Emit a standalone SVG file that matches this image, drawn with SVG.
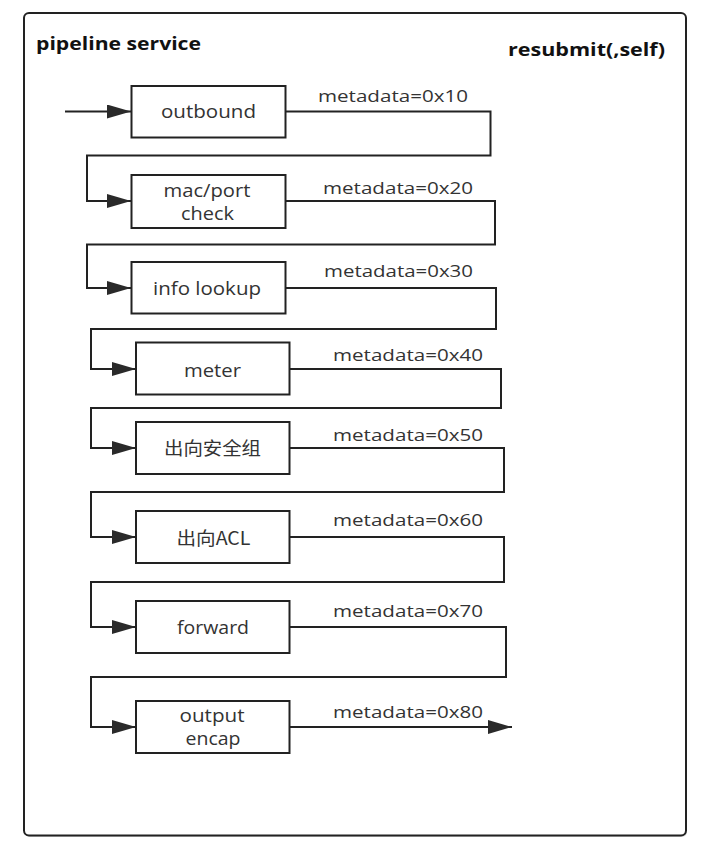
<svg xmlns="http://www.w3.org/2000/svg" width="710" height="858" viewBox="0 0 710 858">
<style>
.frame{fill:#fff;stroke:#222;stroke-width:2}
.node rect{fill:#fff;stroke:#222;stroke-width:2}
.lbl{font-family:"Open Sans","DejaVu Sans","Noto Sans CJK SC",sans-serif;font-size:18px;fill:#333;text-anchor:middle}
.cjk{font-family:"Noto Sans CJK SC","Open Sans",sans-serif;font-size:18px;fill:#333;text-anchor:middle}
.meta{font-family:"Open Sans","DejaVu Sans",sans-serif;font-size:17px;fill:#333}
.title{font-family:"Open Sans","DejaVu Sans",sans-serif;font-size:17px;font-weight:bold;fill:#111}
.conn path{fill:none;stroke:#222;stroke-width:2;marker-end:url(#arr)}
</style>
<defs>
<marker id="arr" viewBox="0 0 24 14" refX="24" refY="7" markerWidth="24" markerHeight="14" markerUnits="userSpaceOnUse" orient="auto">
<path d="M0,0 L24,7 L0,14 z" fill="#2a2a2a"/>
</marker>
</defs>
<rect width="710" height="858" fill="#fff"/>
<rect x="25" y="14" width="662" height="823" rx="5" fill="#bbb" opacity="0.5"/>
<rect class="frame" x="24" y="13" width="662" height="822.5" rx="5"/>
<text class="title" x="36" y="50" textLength="165" lengthAdjust="spacingAndGlyphs">pipeline service</text>
<text class="title" x="508" y="56" textLength="157" lengthAdjust="spacingAndGlyphs">resubmit(,self)</text>

<g id="connectors" class="conn">
<path d="M65,111.5 H131"/>
<path d="M285,111.5 H490.5 V155.5 H87 V201 H131"/>
<path d="M285,201 H495 V244.5 H87 V288 H131"/>
<path d="M285,288 H496 V329 H91 V369 H136"/>
<path d="M289,369 H501 V408 H91 V448 H136"/>
<path d="M289,448 H504 V492 H91 V537 H136"/>
<path d="M289,537 H504 V582 H91 V627 H136"/>
<path d="M289,627 H506 V677 H91 V727 H136"/>
<path d="M289,727 H512"/>
</g>

<g id="labels">
<text class="meta" x="318" y="101.5" textLength="150" lengthAdjust="spacingAndGlyphs">metadata=0x10</text>
<text class="meta" x="323" y="194" textLength="150" lengthAdjust="spacingAndGlyphs">metadata=0x20</text>
<text class="meta" x="324" y="277" textLength="149" lengthAdjust="spacingAndGlyphs">metadata=0x30</text>
<text class="meta" x="333" y="361" textLength="150" lengthAdjust="spacingAndGlyphs">metadata=0x40</text>
<text class="meta" x="333" y="441" textLength="150" lengthAdjust="spacingAndGlyphs">metadata=0x50</text>
<text class="meta" x="333" y="526" textLength="150" lengthAdjust="spacingAndGlyphs">metadata=0x60</text>
<text class="meta" x="333" y="617" textLength="150" lengthAdjust="spacingAndGlyphs">metadata=0x70</text>
<text class="meta" x="333" y="718" textLength="150" lengthAdjust="spacingAndGlyphs">metadata=0x80</text>
</g>

<g id="n-outbound" class="node">
<rect x="131.5" y="86" width="154" height="51.5"/>
<text class="lbl" x="208.5" y="118" textLength="95" lengthAdjust="spacingAndGlyphs">outbound</text>
</g>
<g id="n-macport" class="node">
<rect x="131.5" y="175" width="154" height="53"/>
<text class="lbl" x="207" y="197" textLength="87" lengthAdjust="spacingAndGlyphs">mac/port</text>
<text class="lbl" x="207.5" y="220" textLength="53" lengthAdjust="spacingAndGlyphs">check</text>
</g>
<g id="n-infolookup" class="node">
<rect x="131.5" y="262" width="154" height="51.5"/>
<text class="lbl" x="207" y="295" textLength="108" lengthAdjust="spacingAndGlyphs">info lookup</text>
</g>
<g id="n-meter" class="node">
<rect x="136" y="342.5" width="153.5" height="52"/>
<text class="lbl" x="212.5" y="376.5" textLength="57" lengthAdjust="spacingAndGlyphs">meter</text>
</g>
<g id="n-secgroup" class="node">
<rect x="136" y="422" width="153.5" height="52"/>
<text class="cjk" x="212.5" y="455" textLength="97" lengthAdjust="spacingAndGlyphs">出向安全组</text>
</g>
<g id="n-acl" class="node">
<rect x="136" y="511" width="153.5" height="52"/>
<text class="cjk" x="213.5" y="545" textLength="74" lengthAdjust="spacingAndGlyphs">出向ACL</text>
</g>
<g id="n-forward" class="node">
<rect x="136" y="601" width="153.5" height="52"/>
<text class="lbl" x="213" y="634" textLength="72" lengthAdjust="spacingAndGlyphs">forward</text>
</g>
<g id="n-outputencap" class="node">
<rect x="136" y="701" width="153.5" height="52"/>
<text class="lbl" x="212" y="721.5" textLength="65" lengthAdjust="spacingAndGlyphs">output</text>
<text class="lbl" x="213" y="745" textLength="55" lengthAdjust="spacingAndGlyphs">encap</text>
</g>
</svg>
